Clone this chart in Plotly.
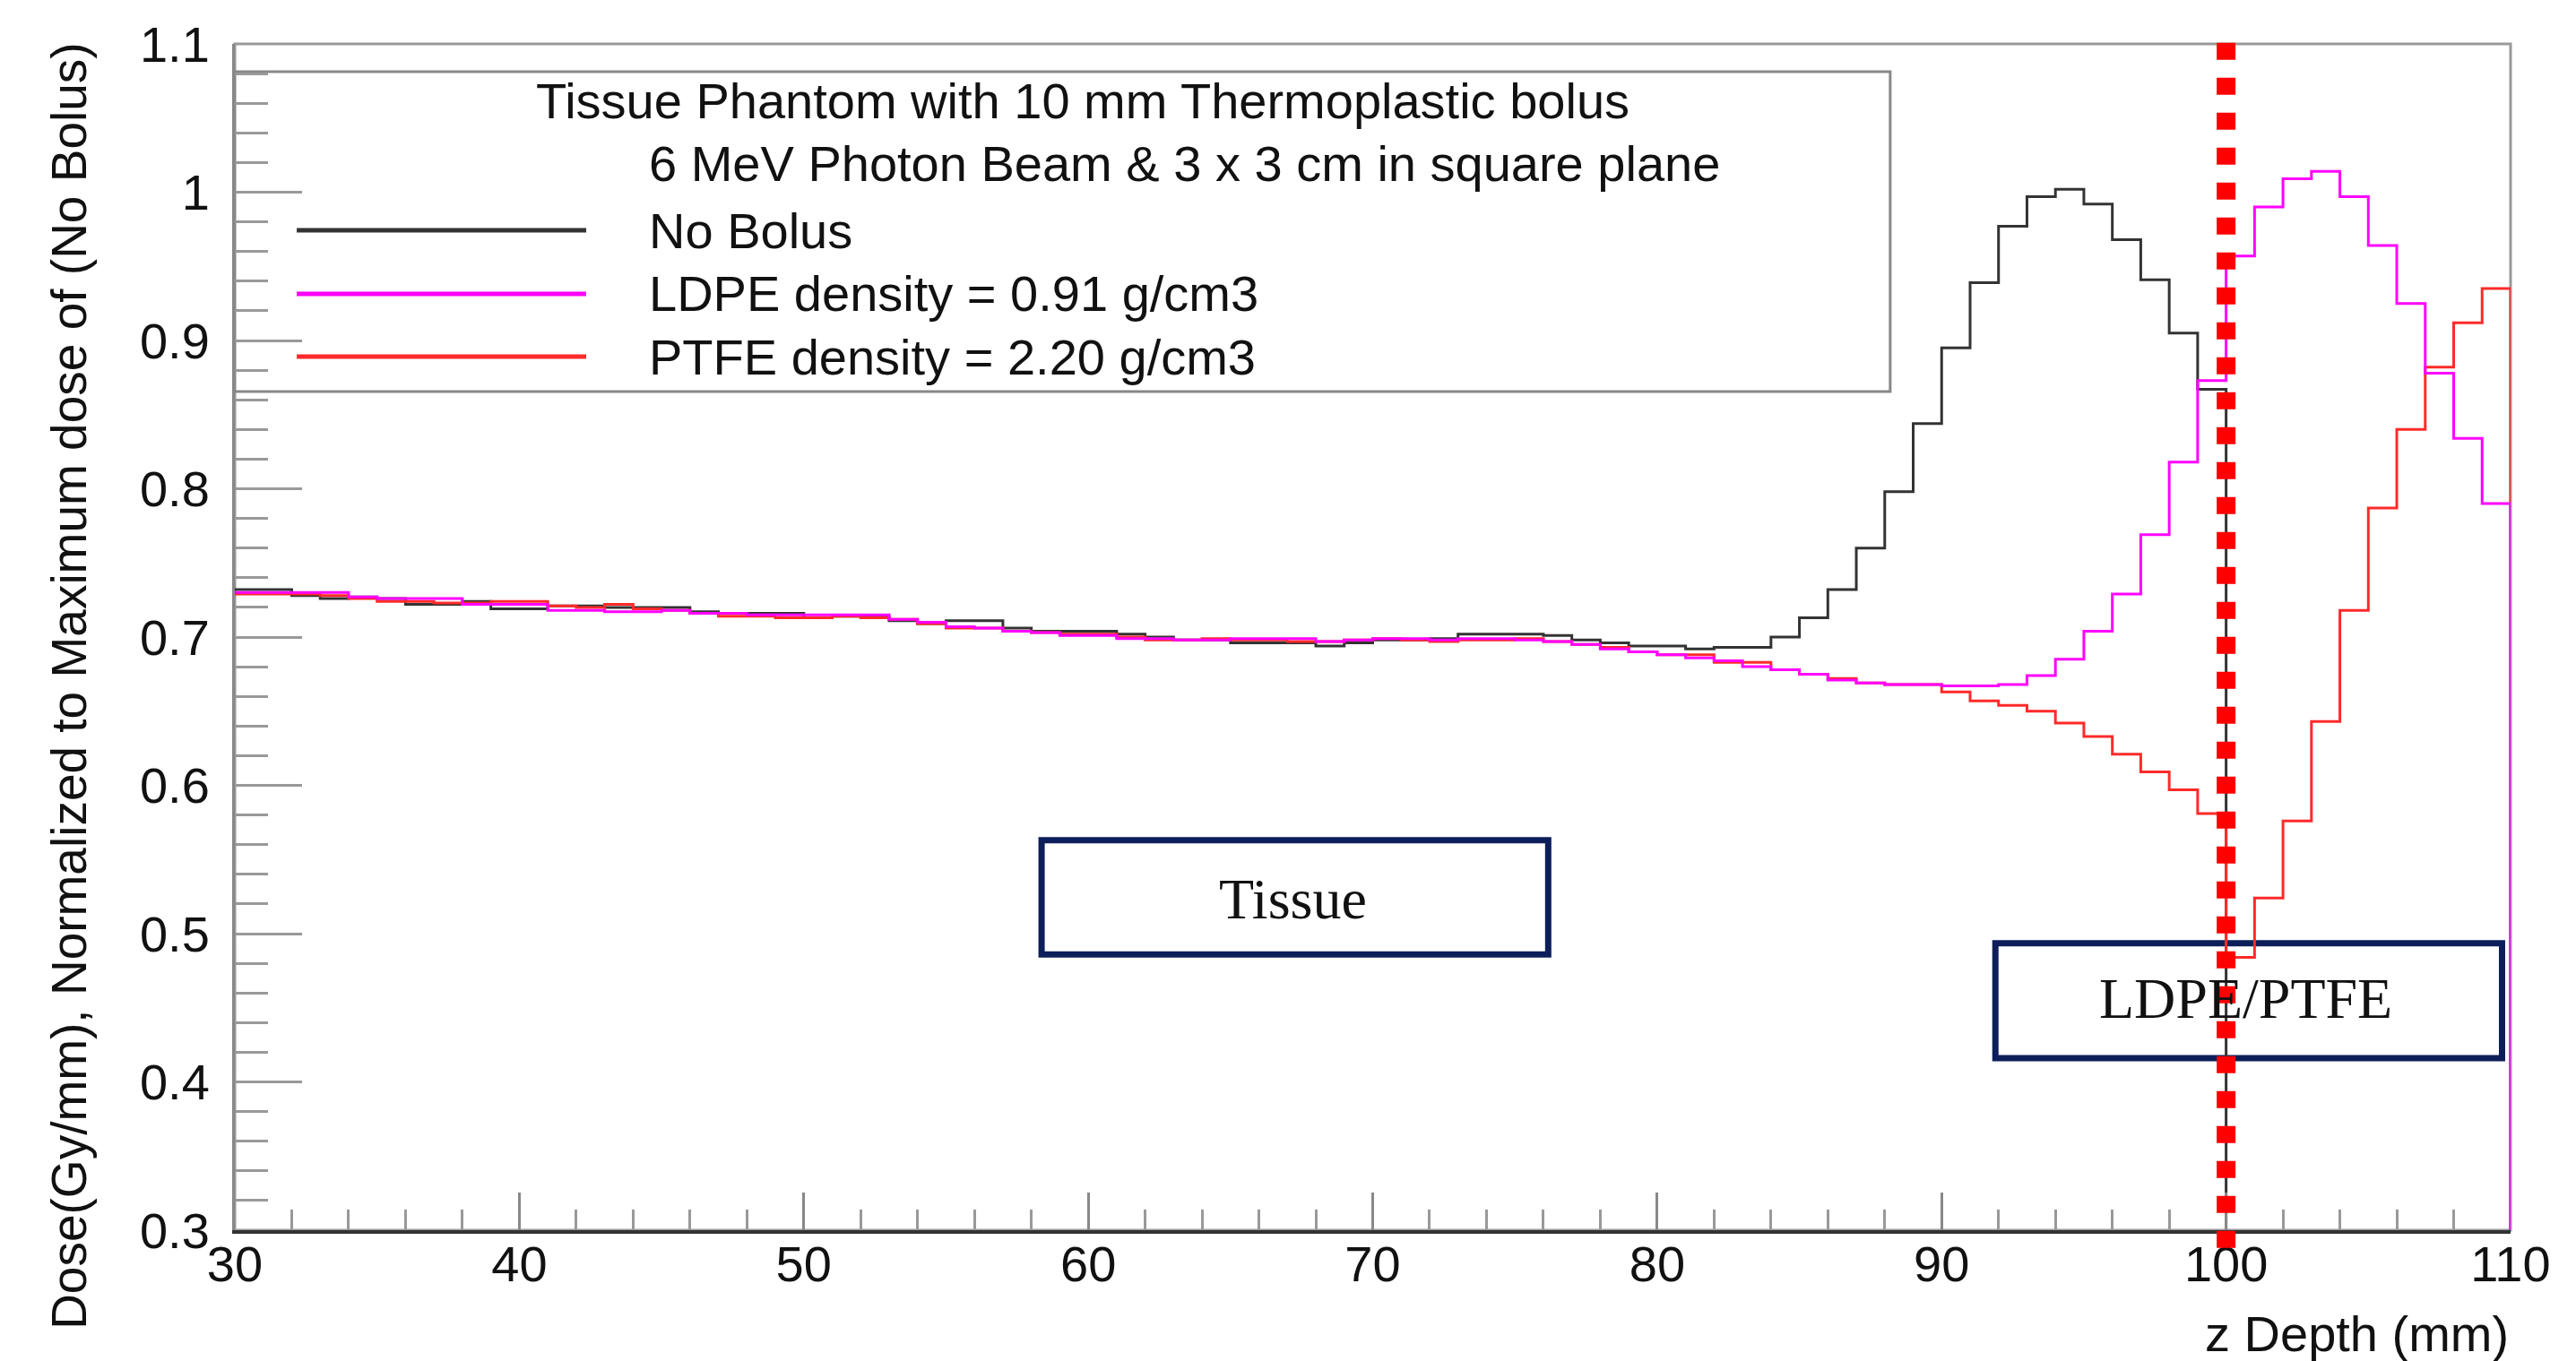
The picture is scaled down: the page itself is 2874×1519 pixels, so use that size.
import plotly.graph_objects as go

# depth bins of 1 mm, lower edges 30..109, last edge 110
depth_edges = list(range(30, 111))

# normalised dose per bin
no_bolus = [0.732, 0.732, 0.728, 0.726, 0.727, 0.726, 0.722, 0.722, 0.724, 0.719,
            0.719, 0.721, 0.721, 0.720, 0.720, 0.720, 0.717, 0.716, 0.716, 0.716,
            0.713, 0.714, 0.714, 0.711, 0.709, 0.711, 0.711, 0.706, 0.704, 0.704,
            0.704, 0.702, 0.700, 0.698, 0.698, 0.696, 0.696, 0.696, 0.694, 0.696,
            0.698, 0.698, 0.699, 0.702, 0.702, 0.702, 0.701, 0.698, 0.696, 0.694,
            0.694, 0.692, 0.693, 0.693, 0.700, 0.713, 0.732, 0.760, 0.798, 0.844,
            0.895, 0.939, 0.977, 0.997, 1.002, 0.992, 0.968, 0.941, 0.905, 0.867,
            0, 0, 0, 0, 0, 0, 0, 0, 0, 0]

ldpe = [0.730, 0.730, 0.730, 0.730, 0.727, 0.726, 0.726, 0.726, 0.722, 0.722,
        0.722, 0.718, 0.718, 0.717, 0.717, 0.718, 0.716, 0.716, 0.715, 0.715,
        0.715, 0.715, 0.715, 0.712, 0.710, 0.707, 0.706, 0.704, 0.703, 0.701,
        0.701, 0.699, 0.699, 0.698, 0.698, 0.699, 0.699, 0.699, 0.697, 0.698,
        0.699, 0.699, 0.698, 0.699, 0.699, 0.698, 0.697, 0.695, 0.692, 0.690,
        0.688, 0.686, 0.684, 0.680, 0.678, 0.675, 0.671, 0.669, 0.668, 0.668,
        0.667, 0.667, 0.668, 0.674, 0.685, 0.704, 0.729, 0.769, 0.818, 0.873,
        0.957, 0.990, 1.009, 1.014, 0.997, 0.964, 0.925, 0.878, 0.834, 0.790]

ptfe = [0.729, 0.729, 0.729, 0.728, 0.726, 0.724, 0.724, 0.723, 0.723, 0.724,
        0.724, 0.721, 0.720, 0.722, 0.719, 0.718, 0.716, 0.714, 0.714, 0.713,
        0.713, 0.714, 0.713, 0.712, 0.709, 0.706, 0.706, 0.704, 0.703, 0.702,
        0.702, 0.700, 0.698, 0.698, 0.699, 0.698, 0.698, 0.697, 0.697, 0.698,
        0.699, 0.698, 0.697, 0.698, 0.698, 0.699, 0.697, 0.695, 0.693, 0.690,
        0.688, 0.688, 0.683, 0.683, 0.678, 0.675, 0.672, 0.669, 0.668, 0.668,
        0.663, 0.657, 0.654, 0.650, 0.642, 0.633, 0.621, 0.609, 0.597, 0.581,
        0.484, 0.524, 0.576, 0.643, 0.718, 0.787, 0.840, 0.882, 0.912, 0.935]

series_names = ["No Bolus", "LDPE density = 0.91 g/cm3", "PTFE density = 2.20 g/cm3"]
series_colors = ["#333333", "#ff00ff", "#ff2a2a"]

bolus_start = 100   # phantom / bolus interface (mm)

FONT = "Liberation Sans, Arial, sans-serif"
SERIF = "Liberation Serif, Times New Roman, serif"

fig = go.Figure()

# histograms drawn as steps, each drops to zero after its last bin
for vals, name, col in [(no_bolus, series_names[0], series_colors[0]),
                        (ptfe, series_names[2], series_colors[2]),
                        (ldpe, series_names[1], series_colors[1])]:
    fig.add_trace(go.Scatter(x=depth_edges, y=vals + [0], mode="lines",
                             line=dict(color=col, width=3, shape="hv"),
                             name=name, showlegend=False))

shapes = []
annotations = []

# plot frame
shapes.append(dict(type="rect", xref="paper", yref="paper", x0=0, x1=1, y0=0, y1=1,
                   line=dict(color="#999999", width=3), layer="below"))

# legend box drawn by hand (ROOT style, long line samples)
shapes.append(dict(type="rect", xref="paper", yref="paper", x0=0, x1=0.7274,
                   y0=0.7069, y1=0.9766, line=dict(color="#888888", width=3),
                   fillcolor="white", layer="below"))
annotations.append(dict(text="Tissue Phantom with 10 mm Thermoplastic bolus",
                        xref="paper", yref="paper", x=0.3724, y=0.9524,
                        xanchor="center", yanchor="middle", showarrow=False,
                        font=dict(family=FONT, size=56, color="#111111")))
annotations.append(dict(text="6 MeV Photon Beam & 3 x 3 cm in square plane",
                        xref="paper", yref="paper", x=0.1812, y=0.8988,
                        xanchor="left", yanchor="middle", showarrow=False,
                        font=dict(family=FONT, size=56, color="#111111")))
legend_rows = [0.8429, 0.7893, 0.7364]
for name, col, yy in zip(series_names, series_colors, legend_rows):
    shapes.append(dict(type="line", xref="paper", yref="paper", x0=0.0272, x1=0.1544,
                       y0=yy, y1=yy, line=dict(color=col, width=5)))
    annotations.append(dict(text=name, xref="paper", yref="paper", x=0.1812, y=yy,
                            xanchor="left", yanchor="middle", showarrow=False,
                            font=dict(family=FONT, size=56, color="#111111")))

# region labels
shapes.append(dict(type="rect", x0=58.36, x1=76.17, y0=0.486, y1=0.563,
                   line=dict(color="#0d1f5a", width=7), layer="below"))
annotations.append(dict(text="Tissue", x=67.2, y=0.523, showarrow=False,
                        font=dict(family=SERIF, size=64, color="#111111")))
shapes.append(dict(type="rect", x0=91.89, x1=109.70, y0=0.416, y1=0.4935,
                   line=dict(color="#0d1f5a", width=7), layer="below"))
annotations.append(dict(text="LDPE/PTFE", x=100.7, y=0.456, showarrow=False,
                        font=dict(family=SERIF, size=64, color="#111111")))

# interface marker
shapes.append(dict(type="line", xref="x", yref="paper", x0=bolus_start, x1=bolus_start,
                   y0=-0.015, y1=1.009, line=dict(color="#ff0000", width=21, dash="19px,20px")))

# axis titles
annotations.append(dict(text="Dose(Gy/mm), Normalized to Maximum dose of (No Bolus)",
                        xref="paper", yref="paper", x=-0.0729, y=1.0023, textangle=-90,
                        xanchor="center", yanchor="top", showarrow=False,
                        font=dict(family=FONT, size=55, color="#111111")))
annotations.append(dict(text="z Depth (mm)", xref="paper", yref="paper", x=1, y=-0.087,
                        xanchor="right", yanchor="middle", showarrow=False,
                        font=dict(family=FONT, size=56, color="#111111")))

fig.update_layout(
    width=2874, height=1519,
    margin=dict(l=262, r=73, t=49, b=146),
    paper_bgcolor="white", plot_bgcolor="white",
    shapes=shapes, annotations=annotations,
    font=dict(family=FONT, size=56, color="#111111"),
)
fig.update_xaxes(range=[30, 110], tick0=30, dtick=10, showgrid=False, zeroline=False,
                 showline=True, linecolor="#333333", linewidth=4,
                 ticks="inside", ticklen=42, tickwidth=3, tickcolor="#888888",
                 minor=dict(dtick=2, ticks="inside", ticklen=23, tickwidth=3, tickcolor="#999999"),
                 tickfont=dict(family=FONT, size=56, color="#111111"), ticklabelstandoff=-14)
fig.update_yaxes(range=[0.3, 1.1], tick0=0.3, dtick=0.1, showgrid=False, zeroline=False,
                 showline=True, linecolor="#888888", linewidth=3,
                 ticks="inside", ticklen=75, tickwidth=3, tickcolor="#999999",
                 minor=dict(dtick=0.02, ticks="inside", ticklen=37, tickwidth=3, tickcolor="#999999"),
                 tickfont=dict(family=FONT, size=56, color="#111111"), ticklabelstandoff=14)

fig.write_html("out.html", config={"displayModeBar": False},
               post_script="document.body.style.margin='0px';")
